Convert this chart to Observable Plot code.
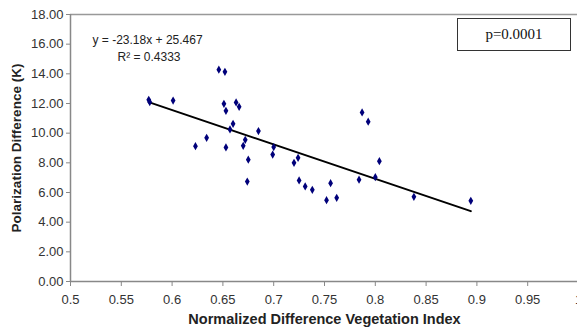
<!DOCTYPE html>
<html>
<head>
<meta charset="utf-8">
<script src="https://cdn.jsdelivr.net/npm/d3@7"></script>
<script src="https://cdn.jsdelivr.net/npm/@observablehq/plot@0.6"></script>
<style>
  html, body { margin: 0; padding: 0; background: #fff; }
  #wrap { position: relative; width: 577px; height: 330px; overflow: hidden; }
  #pbox { position: absolute; left: 457px; top: 18px; width: 112px; height: 31px;
          border: 1.3px solid #333; font-family: "Liberation Serif", serif; font-size: 15px;
          display: flex; align-items: center; justify-content: center; background: #fff; color: #111; }
</style>
</head>
<body>
<div id="wrap"><div id="pbox">p=0.0001</div></div>
<script>
const ndvi = [0.577, 0.578, 0.601, 0.646, 0.652, 0.651, 0.653, 0.663, 0.666, 0.660, 0.657,
  0.634, 0.623, 0.653, 0.672, 0.670, 0.685, 0.675, 0.674, 0.700, 0.699, 0.720, 0.724,
  0.725, 0.731, 0.738, 0.752, 0.756, 0.762, 0.784, 0.787, 0.793, 0.804, 0.800, 0.838, 0.894];
const polDiff = [12.25, 12.1, 12.2, 14.28, 14.14, 11.98, 11.51, 12.07, 11.78, 10.63, 10.25,
  9.69, 9.12, 9.04, 9.55, 9.15, 10.14, 8.21, 6.74, 9.06, 8.56, 8.00, 8.34,
  6.81, 6.41, 6.18, 5.48, 6.63, 5.64, 6.86, 11.40, 10.77, 8.11, 7.03, 5.71, 5.44];
const slope = -23.18;
const intercept = 25.467;
const equationLabel = "y = -23.18x + 25.467";
const r2Label = "R² = 0.4333";
const xTicks = [0.5, 0.55, 0.6, 0.65, 0.7, 0.75, 0.8, 0.85, 0.9, 0.95, 1];
const yTicks = [0, 2, 4, 6, 8, 10, 12, 14, 16, 18];

const points = ndvi.map((x, i) => ({x, y: polDiff[i]}));
const xMin = d3.min(ndvi), xMax = d3.max(ndvi);
const fit = [xMin, xMax].map(x => ({x, y: slope * x + intercept}));

const chart = Plot.plot({
  width: 577,
  height: 330,
  marginLeft: 70,
  marginRight: -1,
  marginTop: 14,
  marginBottom: 49,
  style: {fontFamily: "Liberation Sans, Arial, sans-serif", fontSize: "12px", background: "transparent"},
  x: {domain: [0.5, 1]},
  y: {domain: [0, 18]},
  marks: [
    Plot.ruleY([18], {stroke: "#999", strokeWidth: 1.5}),
    Plot.ruleY([0], {stroke: "#888", strokeWidth: 1.5}),
    Plot.ruleX([0.5], {stroke: "#888", strokeWidth: 1.5}),
    Plot.axisX({ticks: xTicks, tickSize: 5, tickPadding: 8, stroke: "#888", fill: "#333", fontSize: 13,
      tickFormat: d => String(+d.toFixed(2)), label: null}),
    Plot.axisY({ticks: yTicks, tickSize: 4, tickPadding: 3, stroke: "#888", fill: "#333", fontSize: 13,
      tickFormat: d3.format(".2f"), label: null}),
    Plot.line(fit, {x: "x", y: "y", stroke: "#000", strokeWidth: 2}),
    Plot.dot(points, {x: "x", y: "y", symbol: "diamond", r: 2.5, fill: "#00007a", stroke: "none"}),
    Plot.text([equationLabel], {frameAnchor: "top-left", dx: 22, dy: 21, textAnchor: "start", fill: "#222", fontSize: 12}),
    Plot.text([r2Label], {frameAnchor: "top-left", dx: 47, dy: 38, textAnchor: "start", fill: "#222", fontSize: 12}),
    Plot.text(["Polarization Difference (K)"], {frameAnchor: "left", textAnchor: "middle", rotate: -90, dx: -54, fontWeight: "bold", fontSize: 13.5, fill: "#222"}),
    Plot.text(["Normalized Difference Vegetation Index"], {frameAnchor: "bottom", dy: 42, fontWeight: "bold", fontSize: 14.5, fill: "#222"})
  ]
});
document.getElementById("wrap").prepend(chart);
</script>
</body>
</html>
